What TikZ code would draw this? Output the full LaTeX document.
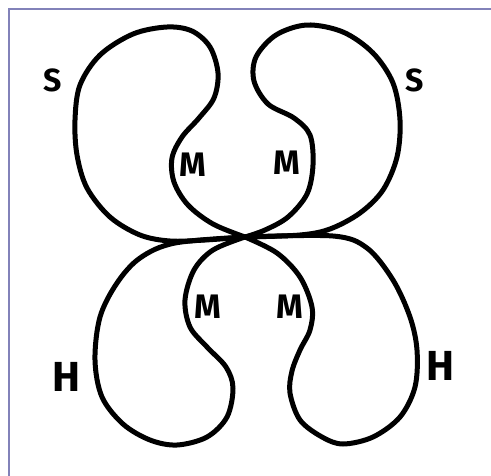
\documentclass[tikz,border=0pt]{standalone}
\usepackage{fontspec}
\setmainfont{Fira Sans}
\definecolor{frame}{RGB}{130,130,185}
\tikzset{
  kidney/.style={line width=5pt, line join=round, line cap=round, smooth, tension=0.55},
  lbl/.style={font=\bfseries, inner sep=0pt},
  framelin/.style={draw=frame, line width=2pt}
}
\begin{document}
\begin{tikzpicture}[x=1pt,y=-1pt]
\useasboundingbox (0,0) rectangle (491,475);
\fill[white] (0,0) rectangle (491,475);
\draw[framelin] (8.5,476) -- (8.5,8.5) -- (492,8.5);
\coordinate (c) at (245,237);
% top-left
\draw[kidney] plot coordinates {(c) (205,240) (170,241) (140,235) (110,217) (87,188) (77,155) (75,120) (80,85) (100,55) (133,34) (167,27) (192,31) (210,47) (218,73) (214,98) (199,118) (182,137) (172,158) (174,182) (188,205) (213,224) (c)};
% top-right
\draw[kidney] plot coordinates {(c) (265,230) (288,217) (307,194) (313,165) (310,135) (294,118) (268,104) (254,81) (256,57) (276,35) (307,25) (343,32) (373,53) (393,83) (400,120) (397,157) (383,190) (360,213) (330,229) (300,235) (c)};
% bottom-left
\draw[kidney] plot coordinates {(c) (213,250) (194,270) (185,300) (190,327) (207,347) (226,367) (233,388) (227,417) (207,437) (177,445) (150,440) (123,424) (102,397) (95,360) (100,317) (117,283) (140,258) (175,243) (c)};
% bottom-right
\draw[kidney] plot coordinates {(c) (277,253) (300,277) (312,307) (310,330) (300,350) (292,371) (290,393) (300,420) (322,437) (343,444) (373,437) (400,417) (415,387) (417,350) (410,317) (393,280) (367,248) (333,236) (c)};
\node[lbl, font=\fontsize{32}{32}\selectfont\bfseries] (s1) at (53,80) {S};
\node[lbl, font=\fontsize{32}{32}\selectfont\bfseries] (s2) at (415,80) {S};
\node[lbl, font=\fontsize{34}{34}\selectfont\bfseries] (m1) at (193,165) {M};
\node[lbl, font=\fontsize{34}{34}\selectfont\bfseries] (m2) at (287,163) {M};
\node[lbl, font=\fontsize{34}{34}\selectfont\bfseries] (m3) at (208,307) {M};
\node[lbl, font=\fontsize{34}{34}\selectfont\bfseries] (m4) at (290,307) {M};
\node[lbl, font=\fontsize{42}{42}\selectfont\bfseries] (h1) at (66,377) {H};
\node[lbl, font=\fontsize{42}{42}\selectfont\bfseries] (h2) at (440,366) {H};
\end{tikzpicture}
\end{document}
